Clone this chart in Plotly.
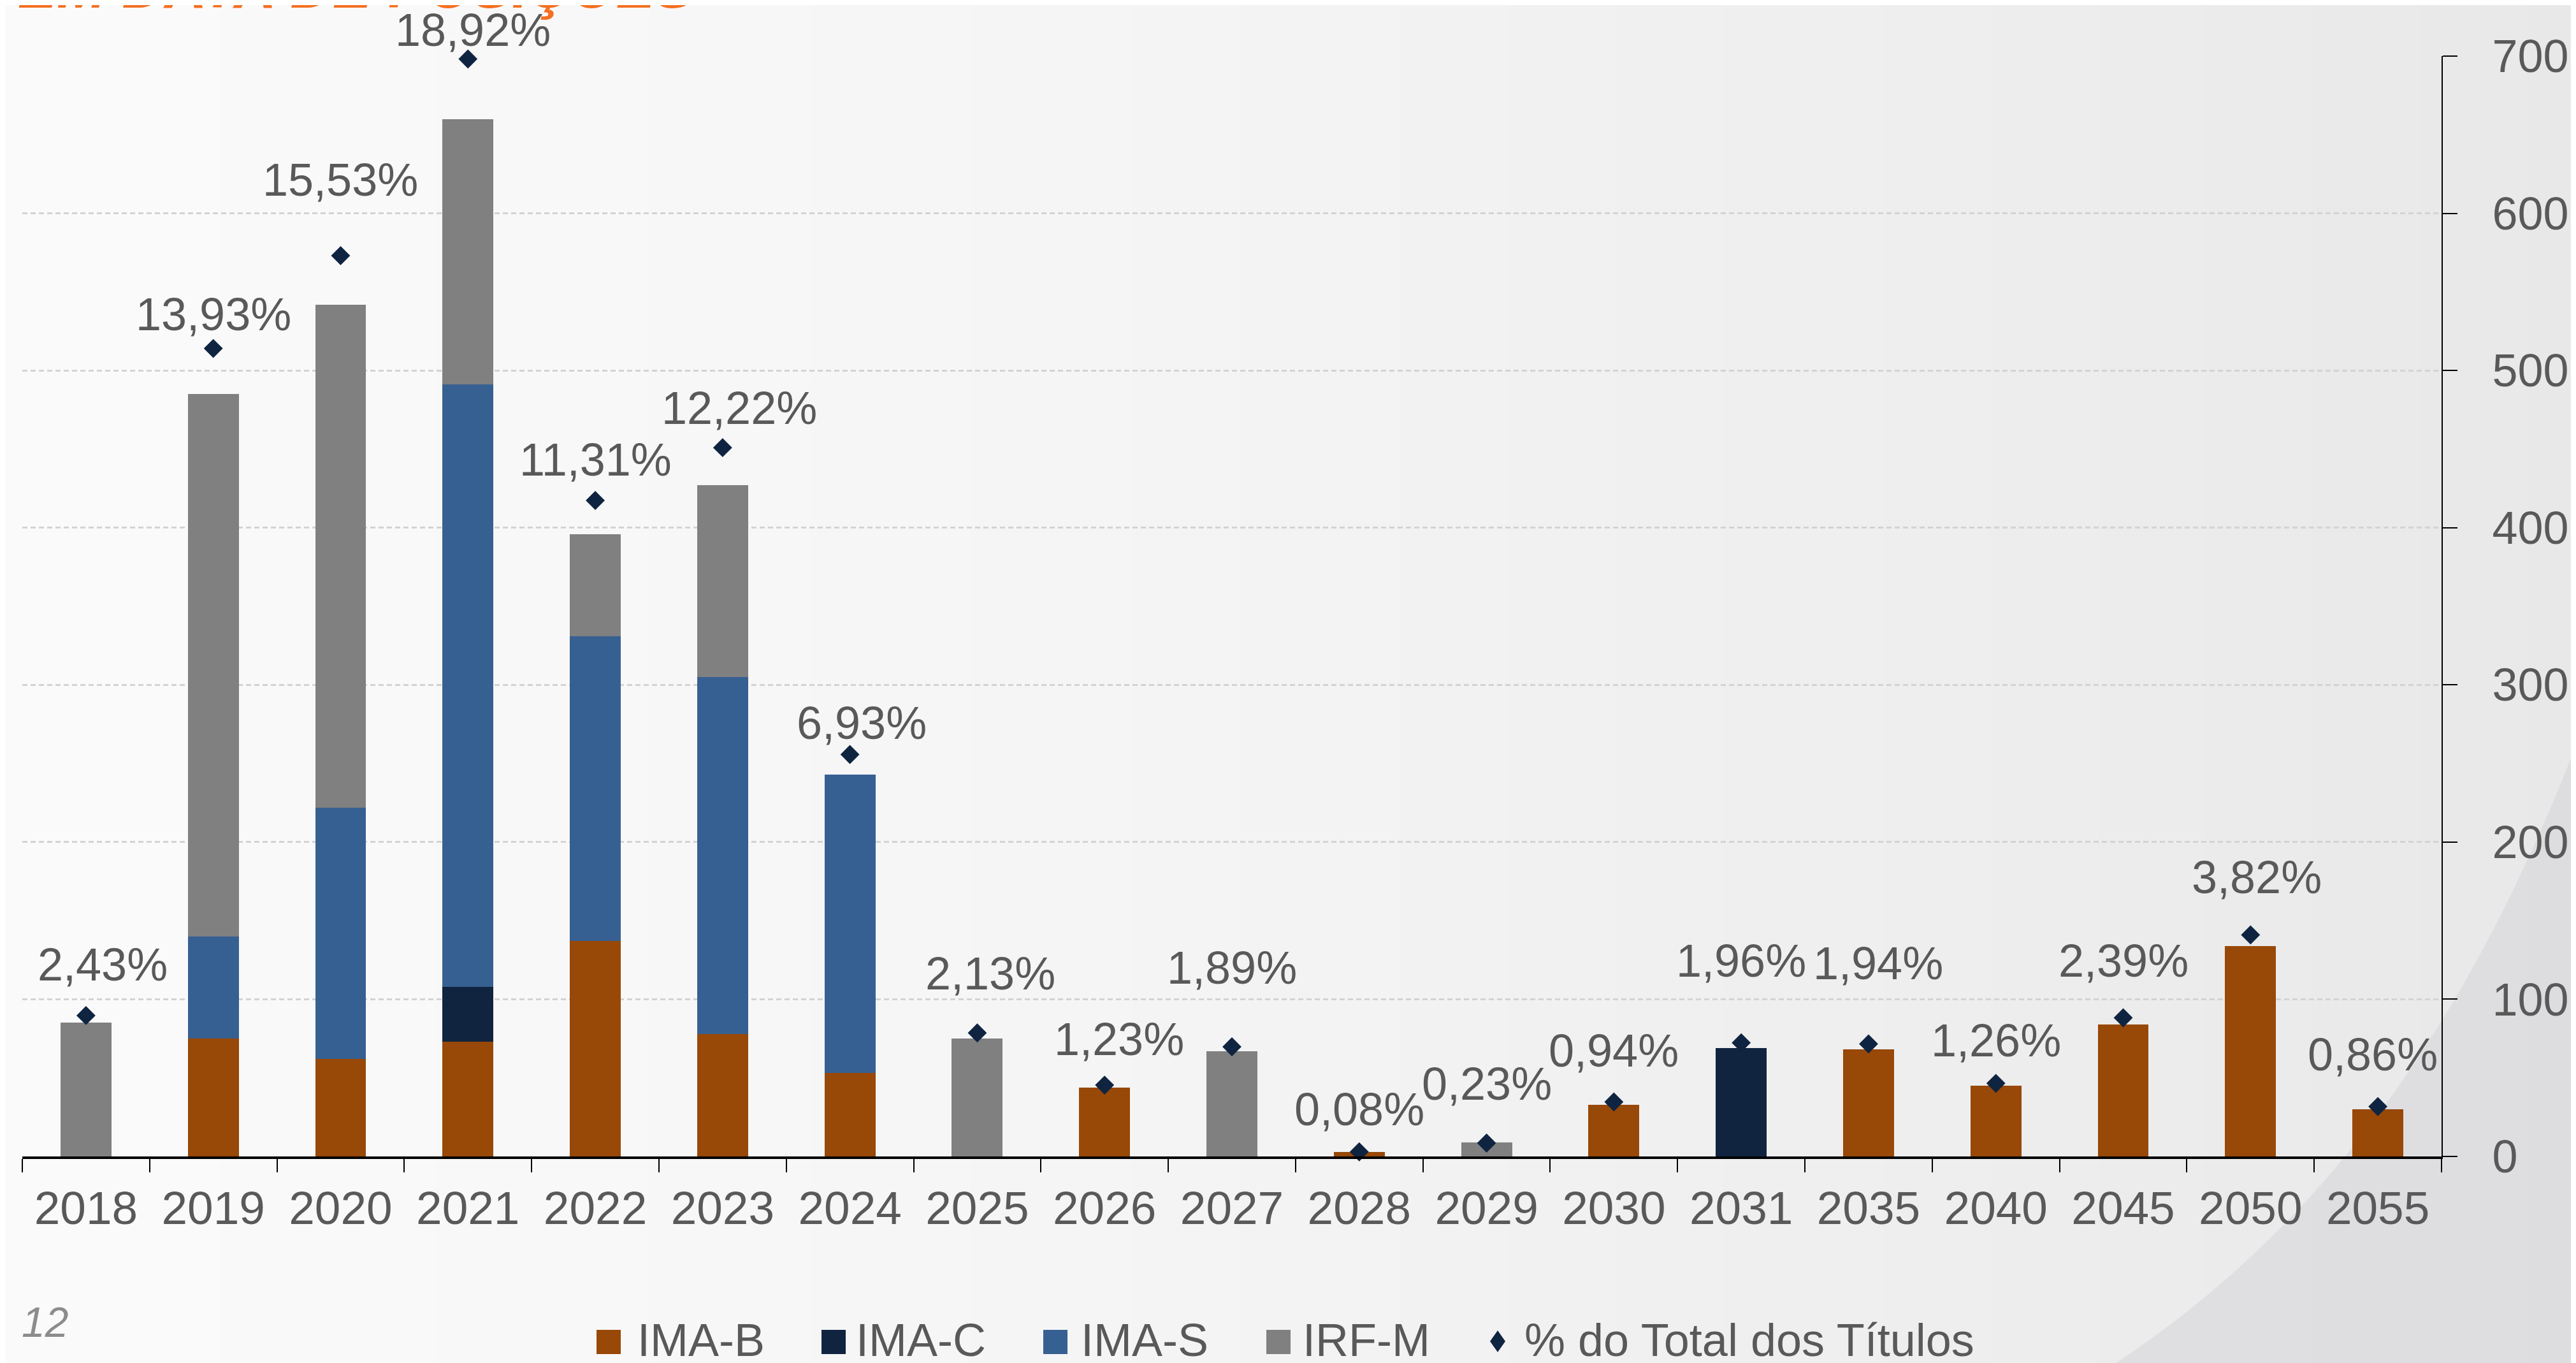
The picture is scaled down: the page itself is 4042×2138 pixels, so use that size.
import plotly.graph_objects as go

# Vencimentos (eixo x) e volumes por índice
categorias = ['2018', '2019', '2020', '2021', '2022', '2023', '2024', '2025', '2026', '2027',
              '2028', '2029', '2030', '2031', '2035', '2040', '2045', '2050', '2055']
ima_b = [0, 75, 62, 73, 137, 78, 53, 0, 44, 0, 3, 0, 33, 0, 68, 45, 84, 134, 30]
ima_c = [0, 0, 0, 35, 0, 0, 0, 0, 0, 0, 0, 0, 0, 69, 0, 0, 0, 0, 0]
ima_s = [0, 65, 160, 383, 194, 227, 190, 0, 0, 0, 0, 0, 0, 0, 0, 0, 0, 0, 0]
irf_m = [85, 345, 320, 169, 65, 122, 0, 75, 0, 67, 0, 9, 0, 0, 0, 0, 0, 0, 0]
pct_total = [2.43, 13.93, 15.53, 18.92, 11.31, 12.22, 6.93, 2.13, 1.23, 1.89,
             0.08, 0.23, 0.94, 1.96, 1.94, 1.26, 2.39, 3.82, 0.86]

# deslocamento (px) de cada rótulo em relação ao marcador, como no slide
desloc_rotulo_y = [80, 54, 119, 46, 64, 62, 49, 93, 72, 124,
                   67, 93, 80, 129, 126, 67, 90, 90, 82]
desloc_rotulo_x = [26, 0, 0, 8, 0, 26, 18, 21, 23, 0,
                   0, 0, 0, 0, 15, 0, 0, 10, -8]

series_nomes = ['IMA-B', 'IMA-C', 'IMA-S', 'IRF-M']
cores = ['#984807', '#10243f', '#376092', '#808080']
cor_marcador = '#0f2440'
cor_texto = '#595959'
fonte = 'Liberation Sans, Arial, sans-serif'

W, H = 4042, 2138
# area do grafico em pixels
L, R, T, B = 27, 3823, 80, 1806


def px(x):
    return (x - L) / (R - L)


def py(y):
    return (B - y) / (B - T)


fig = go.Figure()

for nome, valores, cor in zip(series_nomes, [ima_b, ima_c, ima_s, irf_m], cores):
    fig.add_trace(go.Bar(
        x=categorias, y=valores, name=nome,
        marker=dict(color=cor, line=dict(width=0)),
        width=0.4, showlegend=False
    ))

fig.add_trace(go.Scatter(
    x=categorias, y=pct_total, yaxis='y2', name='% do Total dos Títulos',
    mode='markers',
    marker=dict(symbol='diamond', size=23, color=cor_marcador),
    showlegend=False, cliponaxis=False
))

# rótulos de % (eixo de categorias: posição pelo índice da categoria)
annotations = []
for i, (p, dy, dx) in enumerate(zip(pct_total, desloc_rotulo_y, desloc_rotulo_x)):
    annotations.append(dict(x=i, y=p, xref='x', yref='y2', yshift=dy, xshift=dx,
                            xanchor='center', yanchor='middle', showarrow=False,
                            text=f"{p:.2f}%".replace('.', ','),
                            font=dict(family=fonte, size=72, color=cor_texto)))

# fundo em degradê + curva no canto inferior direito
shapes = []
n_faixas = 48
for i in range(n_faixas):
    x0 = W * i / n_faixas
    x1 = W * (i + 1) / n_faixas + 2
    t = i / (n_faixas - 1)
    c = int(round(250 - 18 * t ** 1.4))
    shapes.append(dict(type='rect', xref='paper', yref='paper', layer='below',
                       x0=px(x0), x1=px(x1), y0=py(H), y1=py(0),
                       fillcolor=f'rgb({c},{c},{c + 1})', line=dict(width=0)))
curva = (f"M{px(3300)},{py(H)} C{px(3620)},{py(1930)} {px(3860)},{py(1620)} "
         f"{px(W)},{py(1140)} L{px(W)},{py(H)} Z")
shapes.append(dict(type='path', xref='paper', yref='paper', layer='below',
                   path=curva, fillcolor='rgba(205,205,209,0.4)', line=dict(width=0)))

# legenda manual (quadrados maiores, como no original)
leg_y = 2094
leg_x_simbolo = [928, 1281, 1629, 1979]
leg_x_texto = [990, 1333, 1686, 2034, 2382]
for xs, cor in zip(leg_x_simbolo, cores):
    shapes.append(dict(type='rect', xref='paper', yref='paper',
                       x0=px(xs), x1=px(xs + 38), y0=py(leg_y + 22), y1=py(leg_y - 16),
                       fillcolor=cor, line=dict(width=0)))
mx, my = 2342, leg_y + 2
shapes.append(dict(type='path', xref='paper', yref='paper',
                   path=(f"M{px(mx)},{py(my - 17)} L{px(mx + 12)},{py(my)} "
                         f"L{px(mx)},{py(my + 17)} L{px(mx - 12)},{py(my)} Z"),
                   fillcolor=cor_marcador, line=dict(width=0)))
for xt, nome in zip(leg_x_texto, series_nomes + ['% do Total dos Títulos']):
    annotations.append(dict(x=px(xt), y=py(leg_y), xref='paper', yref='paper',
                            xanchor='left', yanchor='middle', showarrow=False, text=nome,
                            font=dict(family=fonte, size=72, color=cor_texto)))

# numero da pagina
annotations.append(dict(x=px(24), y=py(2066), xref='paper', yref='paper',
                        xanchor='left', yanchor='middle', showarrow=False,
                        text='<i>12</i>', font=dict(family=fonte, size=66, color='#8c8c8c')))
# titulo do slide (cortado no topo)
annotations.append(dict(x=px(18), y=py(25), xref='paper', yref='paper',
                        xanchor='left', yanchor='bottom', showarrow=False,
                        text='<b><i>EM DATA DE POSIÇÕES</i></b>',
                        font=dict(family=fonte, size=92, color='#f37021')))

fig.update_layout(
    width=W, height=H,
    barmode='stack',
    margin=dict(l=L, r=W - R, t=T, b=H - B, pad=0),
    paper_bgcolor='#f7f7f7', plot_bgcolor='rgba(0,0,0,0)',
    font=dict(family=fonte, color=cor_texto),
    showlegend=False,
    shapes=shapes, annotations=annotations,
    xaxis=dict(
        type='category', range=[-0.5, len(categorias) - 0.5],
        tickson='boundaries', ticks='outside', ticklen=21,
        tickwidth=2, tickcolor='#000000', showline=True, linecolor='#000000',
        linewidth=4, showgrid=False, tickfont=dict(size=73, color=cor_texto),
        ticklabelstandoff=14
    ),
    yaxis=dict(
        side='right', range=[0, 700], dtick=100, showline=True, linecolor='#000000',
        linewidth=2, ticks='outside', ticklen=23, tickwidth=2, tickcolor='#000000',
        showgrid=True, gridcolor='#d3d3d3', gridwidth=3, griddash='8px,5px',
        zeroline=False, tickfont=dict(size=72, color=cor_texto),
        ticklabelstandoff=40
    ),
    yaxis2=dict(overlaying='y', range=[0, 700 / 36.9], visible=False)
)

fig.write_html("out.html")
